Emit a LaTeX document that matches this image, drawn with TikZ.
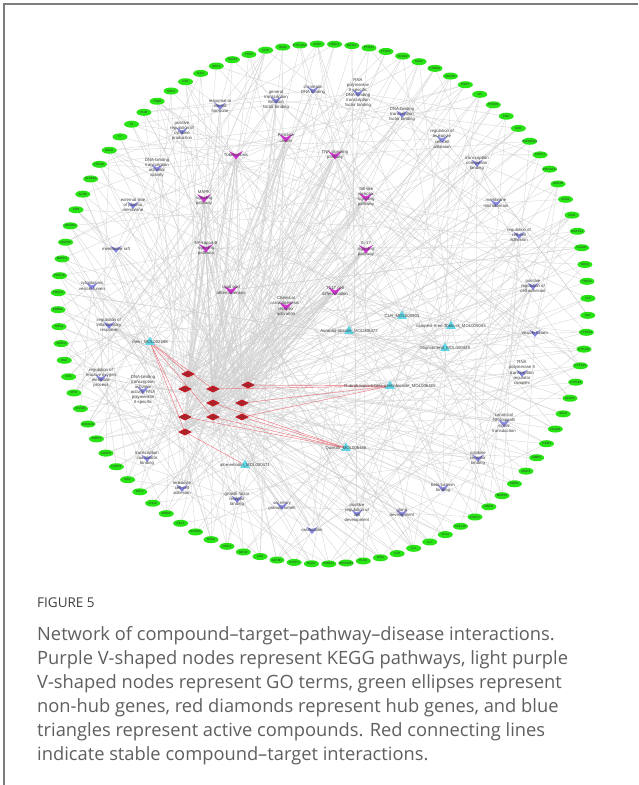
\documentclass[tikz,border=0pt]{standalone}
\usepackage{fontspec}
\setmainfont{Open Sans}
\newfontfamily\netfont{Liberation Sans}
\usetikzlibrary{shapes.geometric}
\pgfdeclarelayer{bg}\pgfdeclarelayer{mid}\pgfsetlayers{bg,mid,main}
\definecolor{genegreen}{RGB}{40,228,20}
\definecolor{gocol}{RGB}{135,135,228}
\definecolor{keggcol}{RGB}{205,50,205}
\definecolor{cmpcol}{RGB}{95,215,230}
\definecolor{hubcol}{RGB}{195,25,35}
\definecolor{framecol}{RGB}{125,125,125}
\definecolor{captext}{RGB}{95,95,95}
\definecolor{edgecol}{RGB}{208,208,208}
\definecolor{redgecol}{RGB}{235,110,120}
\begin{document}
\begin{tikzpicture}[x=1pt,y=-1pt,
  lab/.style={font=\netfont\fontsize{4.3}{5.1}\selectfont, text=black!75, align=center, inner sep=0pt},
  glab/.style={font=\netfont\fontsize{3}{3.5}\selectfont, text=black!80, inner sep=0pt},
  gene/.style={ellipse, fill=genegreen, minimum width=15pt, minimum height=7pt, inner sep=0pt, label={[glab]center:#1}},
  vnode/.style={rectangle, minimum width=12pt, minimum height=8pt, inner sep=0pt, label={[lab]center:{#1}}},
  hub/.style={diamond, fill=hubcol, minimum width=14pt, minimum height=7pt, inner sep=0pt, label={[glab,text=black!70]center:#1}},
  cmp/.style={regular polygon, regular polygon sides=3, fill=cmpcol, minimum size=11pt, inner sep=0pt, label={[lab]center:{#1}}},
  edge/.style={draw=edgecol, line width=0.3pt},
  redge/.style={draw=redgecol, line width=0.4pt},
  captxt/.style={font=\fontsize{18.3}{22}\selectfont, text=captext, inner sep=0pt, anchor=west}
]
\useasboundingbox (0,0) rectangle (638,785);
\begin{pgfonlayer}{bg}
\fill[white] (0,0) rectangle (638,785);
\end{pgfonlayer}
\draw[framecol, line width=1.5pt] (4,785) -- (4,4) -- (638,4);

% ring of non-hub genes
\foreach \nm [count=\k] in {PTGS1,PTGS2,NCOA2,NOS2,CHRM1,ADRB2,ESR1,AR,PPARG,PGR,KDR,HSP90AA1,CHEK1,PRKACA,GSK3B,CDK2,PIM1,MAPK14,CALM1,NOS3,TOP2A,F10,CA2,CYP3A4,CYP1A1,CYP1A2,CYP1B1,ALOX5,SELE,VCAM1,ICAM1,MMP2,MMP3,MMP1,MMP10,MMP9,CXCL2,CXCL10,CCL2,IL2,IL4,IL10,IFNG,PLAU,SERPINE1,HMOX1,NQO1,GSTP1,GSTM1,AHR,NR1I2,NR1I3,RXRA,NFKBIA,RELA,IKBKB,CHUK,BCL2,BAX,CASP9,CASP8,PARP1,CDKN1A,CCND1,MYC,FOS,EGF,VEGFA,HIF1A,ERBB2,PRKCA,PRKCB,MAPK1,MAPK8,AKR1B1,XDH,ACHE,SLC6A4,HTR2A,DRD2,F7,F2,PLAT,THBD,SOD1,CAT,GJA1,ODC1,TGFB1,PTEN,CRP,HAS2,CYP19A1,INSR,NR3C1,NR3C2}{
  \pgfmathsetmacro\ang{80-(\k-1)*3.75}
  \node[gene=\nm] (g\k) at ({323+265*cos(\ang)},{304-260*sin(\ang)}) {};
}

% GO terms
\node[vnode={positive\\regulation of\\cytokine\\production}] (go1) at (182,131) {};
\node[vnode={response to\\steroid\\hormone}] (go2) at (220,106) {};
\node[vnode={general\\transcription\\initiation\\factor binding}] (go3) at (276,100) {};
\node[vnode={chromatin\\DNA binding}] (go4) at (313,90) {};
\node[vnode={RNA\\polymerase\\II-specific\\DNA-binding\\transcription\\factor binding}] (go5) at (358,93) {};
\node[vnode={DNA-binding\\transcription\\factor binding}] (go6) at (402,114) {};
\node[vnode={regulation of\\leukocyte\\cell-cell\\adhesion}] (go7) at (442,139) {};
\node[vnode={transcription\\coregulator\\binding}] (go8) at (477,163) {};
\node[vnode={membrane\\microdomain}] (go9) at (496,203) {};
\node[vnode={regulation of\\cell-cell\\adhesion}] (go10) at (519,235) {};
\node[vnode={positive\\regulation of\\cell adhesion}] (go11) at (533,286) {};
\node[vnode={vesicle lumen}] (go12) at (535,333) {};
\node[vnode={RNA\\polymerase II\\transcription\\regulator\\complex}] (go13) at (522,373) {};
\node[vnode={canonical\\NF-kappaB\\signal\\transduction}] (go14) at (504,423) {};
\node[vnode={cytokine\\receptor\\binding}] (go15) at (478,458) {};
\node[vnode={beta-catenin\\binding}] (go16) at (443,488) {};
\node[vnode={gland\\development}] (go17) at (402,513) {};
\node[vnode={positive\\regulation of\\cell\\development}] (go18) at (357,513) {};
\node[vnode={ossification}] (go19) at (312,530) {};
\node[vnode={secretory\\granule lumen}] (go20) at (282,506) {};
\node[vnode={growth factor\\receptor\\binding}] (go21) at (237,499) {};
\node[vnode={leukocyte\\cell-cell\\adhesion}] (go22) at (182,488) {};
\node[vnode={transcription\\coactivator\\binding}] (go23) at (147,458) {};
\node[vnode={DNA-binding\\transcription\\activator\\activity, RNA\\polymerase\\II-specific}] (go24) at (143,390) {};
\node[vnode={regulation of\\reactive oxygen\\metabolic\\process}] (go25) at (101,378) {};
\node[vnode={regulation of\\inflammatory\\response}] (go26) at (109,325) {};
\node[vnode={cytoplasmic\\vesicle lumen}] (go27) at (92,286) {};
\node[vnode={membrane raft}] (go28) at (116,249) {};
\node[vnode={external side\\of plasma\\membrane}] (go29) at (133,205) {};
\node[vnode={DNA-binding\\transcription\\activator\\activity}] (go30) at (157,168) {};

% KEGG pathways
\node[vnode={Prostate\\cancer}] (kg1) at (286,138) {};
\node[vnode={Tuberculosis}] (kg2) at (236,155) {};
\node[vnode={TNF signaling\\pathway}] (kg3) at (335,155) {};
\node[vnode={MAPK\\signaling\\pathway}] (kg4) at (204,198) {};
\node[vnode={Toll-like\\receptor\\signaling\\pathway}] (kg5) at (366,197) {};
\node[vnode={NF-kappa B\\signaling\\pathway}] (kg6) at (206,248) {};
\node[vnode={IL-17\\signaling\\pathway}] (kg7) at (366,249) {};
\node[vnode={Th17 cell\\differentiation}] (kg8) at (335,291) {};
\node[vnode={Chemical\\carcinogenesis -\\receptor\\activation}] (kg9) at (286,306) {};
\node[vnode={Lipid and\\atherosclerosis}] (kg10) at (231,290) {};

% compounds
\node[cmp={CLR\_MOL000903}] (c1) at (402,316) {};
\node[cmp={campest-5-en-3beta-ol\_MOL005043}] (c2) at (451,326) {};
\node[cmp={Aurantio-obtusin\_MOL006472}] (c3) at (349,331) {};
\node[cmp={Stigmasterol\_MOL000449}] (c4) at (445,348) {};
\node[cmp={rhein\_MOL002268}] (c5) at (150,342) {};
\node[cmp={Rubrofusarin-6-beta-gentiobioside\_MOL006465}] (c6) at (390,386) {};
\node[cmp={Questin\_MOL006466}] (c7) at (346,448) {};
\node[cmp={aloe-emodin\_MOL000471}] (c8) at (245,465) {};

% hub genes
\node[hub=AKT1] (d1) at (188,374) {};
\node[hub=TNF] (d2) at (185,389) {};
\node[hub=IL6] (d3) at (213,389) {};
\node[hub=CASP3] (d4) at (248,385) {};
\node[hub=JUN] (d5) at (213,403) {};
\node[hub=STAT3] (d6) at (242,403) {};
\node[hub=CXCL8] (d7) at (185,417) {};
\node[hub=TP53] (d8) at (213,417) {};
\node[hub=EGFR] (d9) at (242,417) {};
\node[hub=IL1B] (d10) at (185,432) {};

% V shapes
\begin{pgfonlayer}{mid}
\foreach \n in {1,...,30}
  \fill[gocol] ([xshift=-6pt,yshift=3.5pt]go\n.center) -- ([yshift=-4pt]go\n.center) -- ([xshift=6pt,yshift=3.5pt]go\n.center) -- ([yshift=0.5pt]go\n.center) -- cycle;
\foreach \n in {1,...,10}
  \fill[keggcol] ([xshift=-7pt,yshift=4pt]kg\n.center) -- ([yshift=-4.5pt]kg\n.center) -- ([xshift=7pt,yshift=4pt]kg\n.center) -- ([yshift=0.5pt]kg\n.center) -- cycle;
\end{pgfonlayer}

% edges
\pgfmathsetseed{42}
\pgfmathdeclarerandomlist{inner}{{go1}{go2}{go3}{go4}{go5}{go6}{go7}{go8}{go9}{go10}{go11}{go12}{go13}{go14}{go15}{go16}{go17}{go18}{go19}{go20}{go21}{go22}{go23}{go24}{go25}{go26}{go27}{go28}{go29}{go30}{kg1}{kg2}{kg3}{kg4}{kg5}{kg6}{kg7}{kg8}{kg9}{kg10}{c1}{c2}{c3}{c4}{c5}{c6}{c7}{c8}}
\pgfmathdeclarerandomlist{hubs}{{d1}{d2}{d3}{d4}{d5}{d6}{d7}{d8}{d9}{d10}}
\pgfmathdeclarerandomlist{paths}{{kg1}{kg2}{kg3}{kg4}{kg5}{kg6}{kg7}{kg8}{kg9}{kg10}}
\begin{pgfonlayer}{bg}
\foreach \k in {1,...,96}{
  \pgfmathrandomitem{\ta}{inner}
  \pgfmathrandomitem{\tb}{inner}
  \pgfmathrandomitem{\tc}{hubs}
  \draw[edge] (g\k) -- (\ta);
  \draw[edge] (g\k) -- (\tb);
  \draw[edge] (g\k) -- (\tc);
}
\foreach \n in {1,...,30}{
  \pgfmathrandominteger{\ra}{1}{96}
  \pgfmathrandominteger{\rb}{1}{96}
  \pgfmathrandomitem{\tc}{hubs}
  \pgfmathrandomitem{\td}{hubs}
  \draw[edge] (go\n) -- (g\ra);
  \draw[edge] (go\n) -- (g\rb);
  \draw[edge] (go\n) -- (\tc);
  \draw[edge] (go\n) -- (\td);
}
\foreach \n in {1,...,10}{
  \pgfmathrandominteger{\ra}{1}{96}
  \pgfmathrandominteger{\rb}{1}{96}
  \pgfmathrandominteger{\rc}{1}{96}
  \draw[edge] (kg\n) -- (g\ra);
  \draw[edge] (kg\n) -- (g\rb);
  \draw[edge] (kg\n) -- (g\rc);
  \foreach \h in {1,...,10}{\draw[edge] (kg\n) -- (d\h);}
}
\foreach \n in {1,...,8}{
  \pgfmathrandominteger{\ra}{1}{96}
  \pgfmathrandominteger{\rb}{1}{96}
  \pgfmathrandomitem{\tc}{paths}
  \draw[edge] (c\n) -- (g\ra);
  \draw[edge] (c\n) -- (g\rb);
  \draw[edge] (c\n) -- (\tc);
}
\foreach \a/\b in {c5/d1,c5/d3,c5/d7,c5/d8,c5/d10,c6/d4,c6/d6,c6/d3,c6/d9,c7/d7,c7/d8,c7/d9,c7/d5,c8/d10}
  \draw[redge] (\a) -- (\b);
\end{pgfonlayer}

% caption
\node[font=\fontsize{13.5}{15}\selectfont, text=black!75, inner sep=0pt, anchor=west] (fig) at (37,603) {FIGURE 5};
\node[captxt] (l1) at (37,636) {Network of compound–target–pathway–disease interactions.};
\node[captxt] (l2) at (37,660) {Purple V-shaped nodes represent KEGG pathways, light purple};
\node[captxt] (l3) at (37,684) {V-shaped nodes represent GO terms, green ellipses represent};
\node[captxt] (l4) at (37,708) {non-hub genes, red diamonds represent hub genes, and blue};
\node[captxt] (l5) at (37,732) {triangles represent active compounds. Red connecting lines};
\node[captxt] (l6) at (37,756) {indicate stable compound–target interactions.};
\end{tikzpicture}
\end{document}
